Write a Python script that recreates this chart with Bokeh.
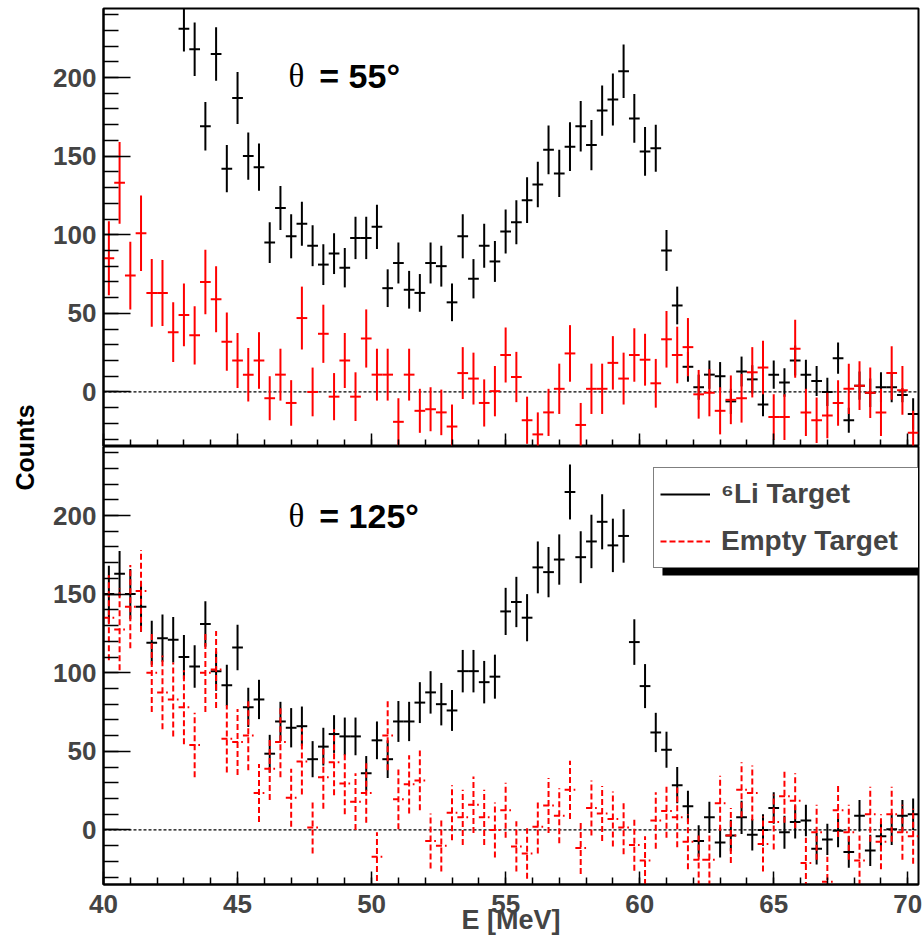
import math
from bokeh.plotting import figure
from bokeh.layouts import row, column
from bokeh.models import (ColumnDataSource, Range1d, Span, Label, BoxAnnotation,
                          SingleIntervalTicker, Legend, LegendItem)
from bokeh.embed import file_html
from bokeh.resources import INLINE

# ---------------- binning ----------------
E_MIN, E_MAX = 40.0, 70.4
BIN_WIDTH = 0.4
N_BINS = 76
bin_centers = [round(E_MIN + BIN_WIDTH * (i + 0.5), 3) for i in range(N_BINS)]

Y_MIN, Y_MAX = -34.7, 243.9

# ---------------- theta = 55 deg ----------------
li_55 = [None, None, None, None, None, None, None, 231, 218, 169,
         215, 142, 187, 150, 143, 95, 117, 99, 107, 93,
         81, 88, 79, 98, 98, 105, 66, 82, 65, 63,
         82, 80, 57, 99, 72, 93, 83, 102, 108, 122,
         132, 154, 139, 156, 169, 157, 179, 186, 204, 174,
         153, 155, 90, 55, 16, 3, 11, 10, -6, 13,
         8, -8, 11, 6, 20, 11, 7, 0, 21.5, -18,
         4, -0.5, 3, 3, -2, -14]
li_55_err = [None, None, None, None, None, None, None, 14.5, 17, 15.5,
             17, 15, 16.5, 15, 15, 13, 14, 14, 14, 13,
             13, 13, 12.5, 13.5, 13.5, 14, 12, 13, 12, 12,
             13, 13, 12, 14, 12.5, 14, 13, 14, 14, 14.5,
             14.5, 15.5, 15, 15.5, 16, 16, 16, 16.5, 17, 15.5,
             15.5, 15, 13, 12, 9.5, 8, 9, 9, 8, 9.5,
             9, 7.5, 9, 9, 9.5, 9.5, 9.5, 9, 10, 8,
             9, 9, 9.5, 9.5, 4.5, 10]
empty_55 = [85, 133, 74, 101, 63, 63, 38, 49, 36, 70,
            59, 32, 20, 11, 20, -4, 11, -7, 47, 0,
            37, -3, 20, -3, 34, 11, 11, -19, 11, -12,
            -11, -13, -22, 12, 8.5, -7, 0.5, 23.5, 9.5, -18,
            -27, -13, 2, 24.5, -21, 2, 2, 18.5, 8.5, 23.5,
            20.5, 5.5, 33.5, 23.5, 28.5, -1.5, -0.5, -12, -5, -4,
            12.5, 15.5, -16, -16, 27.5, -13, -18, -15, -7, 2,
            4, -0.5, -13, 12, 1, -26]
empty_55_err = [23.5, 26, 21.5, 24, 21.5, 21, 19, 20, 18.5, 20.5,
                21, 18.5, 17.5, 17, 18, 14, 16.5, 14.5, 20, 15.5,
                18.5, 15, 17.5, 15.5, 18.5, 16.5, 16.5, 15, 16.5, 14,
                14, 14.5, 14, 16.5, 16.5, 15, 16, 17.5, 16, 15,
                14, 15, 16, 18, 14, 16, 16, 17, 16.5, 17,
                16.5, 15.5, 18, 18, 18.5, 15.5, 15, 15, 15.5, 15.5,
                16, 17, 14.5, 14.5, 18.5, 15, 14.5, 14.5, 14.5, 16,
                15.5, 16, 15, 17, 15.5, 14]

# ---------------- theta = 125 deg ----------------
li_125 = [150, 163, 150, 142, 119, 122, 121, 110, 104, 131,
          101, 92, 116, 78, 83, 48.5, 69, 65, 66, 45,
          53, 61, 59.5, 59.5, 36, 57, 45, 69, 69, 81,
          87.5, 80, 76, 101, 101, 94, 97.5, 139, 145, 135,
          167, 164, 172, 215, 173.5, 183.5, 196, 181, 187, 119.5,
          91.5, 62, 51, 28.5, 15, -7, 8, -8, -3.5, 8,
          -3, 0, 14, -1.5, 5, 6, -12, -6, -0.5, -14,
          9, -13, -4, 0.5, 9, 10]
li_125_err = [18, 14.5, 16, 16, 14, 15, 14.5, 14, 13.5, 14.5,
              12.5, 13, 14.5, 12.5, 12.5, 12, 12.5, 12.5, 12.5, 11.5,
              12, 12, 12, 12, 11, 12, 12, 13, 12.5, 13,
              13.5, 13.5, 13, 13.5, 13.5, 13.5, 14, 15, 16, 15,
              16.5, 16, 16, 17.5, 16.5, 17, 17.5, 17, 17, 14.5,
              14, 12.5, 11.5, 11.5, 10, 10, 10, 9.5, 10, 10.5,
              10, 10, 10, 10.5, 10.5, 10, 10, 10, 10.5, 10,
              10, 10, 9.5, 10, 10, 10]
empty_125 = [135, 127.5, 142, 152, 100, 87.5, 83, 78, 54, 100,
             102, 58, 56, 60, 23.5, 39, 56, 20.5, 43.5, 1.5,
             33.5, 43, 29.5, 18, 23.5, -17, 60, 19.5, 29, 31.5,
             -7, -10, 11, 8, 16, 8, 0, 12.5, -10.5, -15,
             2, 15.5, 9, 25.5, -11.5, 14, 10.5, 7, 1.5, -9.5,
             -19.5, 6, 12, 8, -7.5, -19, -19, 17, -3.5, 25.5,
             23.5, -9, 5, 21.5, 18.5, -21, -1.5, -33, 12.5, -1.5,
             -19.5, 10, -7.5, 10, -1.5, -4]
empty_125_err = [27, 26, 26.5, 26, 25, 23.5, 23.5, 23.5, 20.5, 25,
                 24.5, 21.5, 21, 22, 18.5, 20, 22.5, 18.5, 21, 16.5,
                 20, 21, 19.5, 18, 19, 15.5, 22, 19, 18.5, 19,
                 17.5, 16.5, 17.5, 17.5, 18, 17.5, 17.5, 17.5, 16, 16,
                 17, 17.5, 17.5, 18.5, 16.5, 17.5, 17.5, 17.5, 17, 16.5,
                 15.5, 18, 17, 19, 17.5, 17, 17, 17.5, 17.5, 17.5,
                 17.5, 17.5, 17.5, 17, 17.5, 16, 17.5, 16, 17, 17.5,
                 16, 17.5, 17.5, 17.5, 17.5, 17.5]

for arr in (li_55, li_55_err, empty_55, empty_55_err, li_125, li_125_err, empty_125, empty_125_err):
    assert len(arr) == N_BINS, len(arr)

FONT = "Liberation Sans"


def make_source(vals, errs):
    xs, ys, lo, hi, xl, xr = [], [], [], [], [], []
    for x, v, e in zip(bin_centers, vals, errs):
        if v is None:
            continue
        xs.append(x); ys.append(v)
        lo.append(v - e); hi.append(v + e)
        xl.append(x - BIN_WIDTH / 2); xr.append(x + BIN_WIDTH / 2)
    return ColumnDataSource(dict(x=xs, y=ys, lo=lo, hi=hi, xl=xl, xr=xr))


def draw(p, src, color, dash="solid"):
    v = p.segment(x0="x", y0="lo", x1="x", y1="hi", source=src,
                  line_color=color, line_width=2, line_dash=dash)
    p.segment(x0="xl", y0="y", x1="xr", y1="y", source=src,
              line_color=color, line_width=2, line_dash=dash)
    return v


def panel(height, border_top, border_bottom, x_labels):
    p = figure(width=882, height=height,
               x_range=Range1d(E_MIN, E_MAX), y_range=Range1d(Y_MIN, Y_MAX),
               output_backend="svg", toolbar_location=None,
               min_border_left=63, min_border_right=4,
               min_border_top=border_top, min_border_bottom=border_bottom)
    p.grid.visible = False
    p.outline_line_color = "black"
    p.outline_line_width = 2
    xa = p.xaxis[0]
    xa.ticker = SingleIntervalTicker(interval=5, num_minor_ticks=5)
    xa.major_tick_in = 13
    xa.major_tick_out = 0
    xa.minor_tick_in = 7
    xa.minor_tick_out = 0
    xa.major_tick_line_width = 1.5
    xa.minor_tick_line_width = 1.5
    xa.axis_line_width = 2
    xa.major_label_text_font = FONT
    xa.major_label_text_font_style = "bold"
    if x_labels:
        xa.major_label_text_font_size = "26px"
        xa.major_label_standoff = 10
        xa.axis_label = "E [MeV]"
        xa.axis_label_text_font = FONT
        xa.axis_label_text_font_style = "bold"
        xa.axis_label_text_font_size = "27px"
        xa.axis_label_standoff = -11
    else:
        xa.major_label_text_font_size = "1px"
        xa.major_label_text_color = None
        xa.major_label_standoff = 0
    ya = p.yaxis[0]
    ya.ticker = SingleIntervalTicker(interval=50, num_minor_ticks=5)
    ya.major_tick_in = 27
    ya.major_tick_out = 0
    ya.minor_tick_in = 15
    ya.minor_tick_out = 0
    ya.major_tick_line_width = 1.5
    ya.minor_tick_line_width = 1.5
    ya.axis_line_width = 2
    ya.major_label_text_font = FONT
    ya.major_label_text_font_style = "bold"
    ya.major_label_text_font_size = "26px"
    ya.major_label_standoff = 7
    zero = Span(location=0, dimension="width", line_color="black",
                line_dash="3 2", line_width=1.3, level="underlay")
    p.add_layout(zero)
    return p


# ---------------- top panel ----------------
top = panel(446, 8, 0, False)
draw(top, make_source(li_55, li_55_err), "black")
draw(top, make_source(empty_55, empty_55_err), "red")
top.add_layout(Label(x=46.9, y=201, text="θ", text_font="Liberation Serif",
                     text_font_size="33px", text_color="black", text_baseline="alphabetic"))
top.add_layout(Label(x=48.05, y=201, text="= 55°", text_font=FONT, text_font_style="bold",
                     text_font_size="34px", text_color="black", text_baseline="alphabetic"))

# ---------------- bottom panel ----------------
bot = panel(492, 0, 54, True)
r_li = draw(bot, make_source(li_125, li_125_err), "black")
r_empty = draw(bot, make_source(empty_125, empty_125_err), "red", "6 3")
bot.add_layout(Label(x=46.9, y=199.5, text="θ", text_font="Liberation Serif",
                     text_font_size="33px", text_color="black", text_baseline="alphabetic"))
bot.add_layout(Label(x=48.05, y=199.5, text="= 125°", text_font=FONT, text_font_style="bold",
                     text_font_size="34px", text_color="black", text_baseline="alphabetic"))

shadow = BoxAnnotation(left=60.85, right=70.6, top=200, bottom=161.9,
                       fill_color="black", fill_alpha=1, line_color=None)
bot.add_layout(shadow)
legend = Legend(items=[LegendItem(label="⁶Li Target", renderers=[r_li]),
                       LegendItem(label="Empty Target", renderers=[r_empty])],
                location=(550, 316), orientation="vertical",
                border_line_color="black", border_line_width=1.5,
                background_fill_color="white", background_fill_alpha=1,
                label_text_font=FONT, label_text_font_style="bold", label_text_font_size="28px",
                glyph_width=50, glyph_height=40, label_height=40, label_width=192,
                label_standoff=11, padding=6, spacing=7, margin=0)
bot.add_layout(legend)

# ---------------- y-axis title column ----------------
ytitle = figure(width=40, height=938, x_range=Range1d(0, 40), y_range=Range1d(0, 938),
                output_backend="svg", toolbar_location=None,
                x_axis_location=None, y_axis_location=None,
                min_border_left=0, min_border_right=0, min_border_top=0, min_border_bottom=0)
ytitle.grid.visible = False
ytitle.outline_line_color = None
ytitle.add_layout(Label(x=24, y=938 - 447, text="Counts", angle=math.pi / 2,
                        text_font=FONT, text_font_style="bold", text_font_size="25px",
                        text_color="black", text_align="center", text_baseline="middle"))

layout = row(ytitle, column(top, bot))
open("out.html", "w").write(file_html(layout, INLINE))
